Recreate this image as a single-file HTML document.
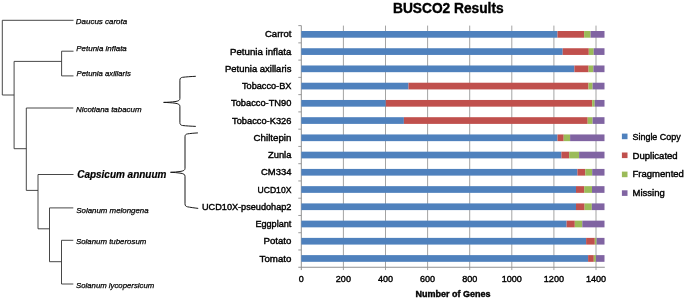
<!DOCTYPE html>
<html lang="en"><head><meta charset="utf-8"><title>BUSCO2 Results</title>
<style>
html,body{margin:0;padding:0;background:#fff;}
body{width:685px;height:300px;overflow:hidden;}
svg{display:block;}
text{font-family:"Liberation Sans",Arial,Helvetica,sans-serif;fill:#000;stroke:#000;stroke-width:0.4;}
.sp{font-style:italic;font-size:8px;fill:#000;stroke:#000;stroke-width:0.25;}
.cap{font-style:italic;font-weight:bold;font-size:10px;fill:#000;stroke:#000;stroke-width:0.2;}
.lab{font-size:9.4px;}
.tick{font-size:9.4px;}
.leg{font-size:9.4px;}
.title{font-size:13.8px;font-weight:bold;fill:#000;}
.xt{font-size:9.4px;font-weight:bold;}
.tree{fill:none;stroke:#333;stroke-width:0.9;}
.brace{fill:none;stroke:#1a1a1a;stroke-width:1;}
</style></head><body>
<svg width="685" height="300" viewBox="0 0 685 300">
<rect x="0" y="0" width="685" height="300" fill="#ffffff"/>
<path class="tree" d="M2.3 20.3 H73.5 M2.3 20.3 V95 H14.1 M14.1 61.4 V148.7 H26.3 M14.1 61.4 H61.6 M61.6 51.2 V75.9 H73.5 M61.6 51.2 H73.5 M26.3 108 V190.4 H38 M26.3 108 H73.3 M38 174.5 V228.8 H49.5 M38 174.5 H73.5 M49.5 207.9 V261.7 H61.5 M49.5 207.9 H73.3 M61.5 240.3 V284 H73.3 M61.5 240.3 H73.3"/>
<text class="sp" x="75.8" y="23.8" textLength="51.4" lengthAdjust="spacingAndGlyphs">Daucus carota</text>
<text class="sp" x="76.3" y="51.2" textLength="50.5" lengthAdjust="spacingAndGlyphs">Petunia inflata</text>
<text class="sp" x="76.5" y="75.9" textLength="54.3" lengthAdjust="spacingAndGlyphs">Petunia axillaris</text>
<text class="sp" x="76" y="111.8" textLength="65.5" lengthAdjust="spacingAndGlyphs">Nicotiana tabacum</text>
<text class="sp" x="76.3" y="212.8" textLength="72.3" lengthAdjust="spacingAndGlyphs">Solanum melongena</text>
<text class="sp" x="76" y="244.1" textLength="70.3" lengthAdjust="spacingAndGlyphs">Solanum tuberosum</text>
<text class="sp" x="76" y="288.4" textLength="78.2" lengthAdjust="spacingAndGlyphs">Solanum lycopersicum</text>
<text class="cap" x="77.2" y="178" textLength="89.2" lengthAdjust="spacingAndGlyphs">Capsicum annuum</text>
<path class="brace" d="M195.8 76.3 C191 76.5 186 76.9 182.6 77.3 C180.8 77.6 179.9 78.3 179.9 80.2 V98.4 C179.9 100.4 178.4 101.1 175 101.6 C172 102 168 102.3 163.6 102.4 C168 102.5 172 102.8 175 103.2 C178.4 103.7 179.9 104.4 179.9 106.4 V122.6 C179.9 124.5 180.8 125.2 182.6 125.5 C186 125.9 191 126.2 195.8 126.4"/>
<path class="brace" d="M197.9 132.9 C194 133.1 190 133.5 187.5 133.9 C185.8 134.2 185 134.9 185 136.8 V168.3 C185 170.3 183.5 171 180 171.5 C177 171.9 174 172.2 170.5 172.3 C174 172.4 177 172.7 180 173.1 C183.5 173.6 185 174.3 185 176.3 V203.8 C185 205.7 185.8 206.4 187.5 206.8 C190 207.3 194 207.9 198.2 208.4"/>
<line x1="343.40" y1="25.6" x2="343.40" y2="270.05" stroke="#949494" stroke-width="0.85"/>
<line x1="385.50" y1="25.6" x2="385.50" y2="270.05" stroke="#949494" stroke-width="0.85"/>
<line x1="427.60" y1="25.6" x2="427.60" y2="270.05" stroke="#949494" stroke-width="0.85"/>
<line x1="469.70" y1="25.6" x2="469.70" y2="270.05" stroke="#949494" stroke-width="0.85"/>
<line x1="511.80" y1="25.6" x2="511.80" y2="270.05" stroke="#949494" stroke-width="0.85"/>
<line x1="553.90" y1="25.6" x2="553.90" y2="270.05" stroke="#949494" stroke-width="0.85"/>
<line x1="596.00" y1="25.6" x2="596.00" y2="270.05" stroke="#949494" stroke-width="0.85"/>
<line x1="301.3" y1="25.6" x2="301.3" y2="270.05" stroke="#909090" stroke-width="1"/>
<line x1="298.3" y1="267.25" x2="604.8" y2="267.25" stroke="#909090" stroke-width="1"/>
<line x1="298.3" y1="25.60" x2="301.3" y2="25.60" stroke="#909090" stroke-width="0.9"/>
<line x1="298.3" y1="42.86" x2="301.3" y2="42.86" stroke="#909090" stroke-width="0.9"/>
<line x1="298.3" y1="60.12" x2="301.3" y2="60.12" stroke="#909090" stroke-width="0.9"/>
<line x1="298.3" y1="77.38" x2="301.3" y2="77.38" stroke="#909090" stroke-width="0.9"/>
<line x1="298.3" y1="94.64" x2="301.3" y2="94.64" stroke="#909090" stroke-width="0.9"/>
<line x1="298.3" y1="111.90" x2="301.3" y2="111.90" stroke="#909090" stroke-width="0.9"/>
<line x1="298.3" y1="129.16" x2="301.3" y2="129.16" stroke="#909090" stroke-width="0.9"/>
<line x1="298.3" y1="146.43" x2="301.3" y2="146.43" stroke="#909090" stroke-width="0.9"/>
<line x1="298.3" y1="163.69" x2="301.3" y2="163.69" stroke="#909090" stroke-width="0.9"/>
<line x1="298.3" y1="180.95" x2="301.3" y2="180.95" stroke="#909090" stroke-width="0.9"/>
<line x1="298.3" y1="198.21" x2="301.3" y2="198.21" stroke="#909090" stroke-width="0.9"/>
<line x1="298.3" y1="215.47" x2="301.3" y2="215.47" stroke="#909090" stroke-width="0.9"/>
<line x1="298.3" y1="232.73" x2="301.3" y2="232.73" stroke="#909090" stroke-width="0.9"/>
<line x1="298.3" y1="249.99" x2="301.3" y2="249.99" stroke="#909090" stroke-width="0.9"/>
<rect x="301.30" y="31.00" width="256.20" height="6.7" fill="#4F81BD"/><rect x="557.50" y="31.00" width="26.60" height="6.7" fill="#C0504D"/><rect x="584.10" y="31.00" width="6.50" height="6.7" fill="#9BBB59"/><rect x="590.60" y="31.00" width="13.90" height="6.7" fill="#8064A2"/>
<text class="lab" x="291.4" y="37.40" text-anchor="end" textLength="26.4" lengthAdjust="spacingAndGlyphs">Carrot</text>
<rect x="301.30" y="48.24" width="261.40" height="6.7" fill="#4F81BD"/><rect x="562.70" y="48.24" width="26.10" height="6.7" fill="#C0504D"/><rect x="588.80" y="48.24" width="4.90" height="6.7" fill="#9BBB59"/><rect x="593.70" y="48.24" width="10.80" height="6.7" fill="#8064A2"/>
<text class="lab" x="291.4" y="54.64" text-anchor="end" textLength="61.4" lengthAdjust="spacingAndGlyphs">Petunia inflata</text>
<rect x="301.30" y="65.48" width="273.10" height="6.7" fill="#4F81BD"/><rect x="574.40" y="65.48" width="14.20" height="6.7" fill="#C0504D"/><rect x="588.60" y="65.48" width="4.80" height="6.7" fill="#9BBB59"/><rect x="593.40" y="65.48" width="11.10" height="6.7" fill="#8064A2"/>
<text class="lab" x="291.4" y="71.88" text-anchor="end" textLength="66.4" lengthAdjust="spacingAndGlyphs">Petunia axillaris</text>
<rect x="301.30" y="82.72" width="107.20" height="6.7" fill="#4F81BD"/><rect x="408.50" y="82.72" width="180.00" height="6.7" fill="#C0504D"/><rect x="588.50" y="82.72" width="4.10" height="6.7" fill="#9BBB59"/><rect x="592.60" y="82.72" width="11.90" height="6.7" fill="#8064A2"/>
<text class="lab" x="291.4" y="89.12" text-anchor="end" textLength="49.4" lengthAdjust="spacingAndGlyphs">Tobacco-BX</text>
<rect x="301.30" y="99.96" width="84.50" height="6.7" fill="#4F81BD"/><rect x="385.80" y="99.96" width="206.40" height="6.7" fill="#C0504D"/><rect x="592.20" y="99.96" width="2.50" height="6.7" fill="#9BBB59"/><rect x="594.70" y="99.96" width="9.80" height="6.7" fill="#8064A2"/>
<text class="lab" x="291.4" y="106.36" text-anchor="end" textLength="60.4" lengthAdjust="spacingAndGlyphs">Tobacco-TN90</text>
<rect x="301.30" y="117.20" width="102.60" height="6.7" fill="#4F81BD"/><rect x="403.90" y="117.20" width="183.80" height="6.7" fill="#C0504D"/><rect x="587.70" y="117.20" width="4.90" height="6.7" fill="#9BBB59"/><rect x="592.60" y="117.20" width="11.90" height="6.7" fill="#8064A2"/>
<text class="lab" x="291.4" y="123.60" text-anchor="end" textLength="59.4" lengthAdjust="spacingAndGlyphs">Tobacco-K326</text>
<rect x="301.30" y="134.44" width="256.20" height="6.7" fill="#4F81BD"/><rect x="557.50" y="134.44" width="6.20" height="6.7" fill="#C0504D"/><rect x="563.70" y="134.44" width="6.40" height="6.7" fill="#9BBB59"/><rect x="570.10" y="134.44" width="34.40" height="6.7" fill="#8064A2"/>
<text class="lab" x="291.4" y="140.84" text-anchor="end" textLength="37.8" lengthAdjust="spacingAndGlyphs">Chiltepin</text>
<rect x="301.30" y="151.68" width="260.10" height="6.7" fill="#4F81BD"/><rect x="561.40" y="151.68" width="7.80" height="6.7" fill="#C0504D"/><rect x="569.20" y="151.68" width="9.90" height="6.7" fill="#9BBB59"/><rect x="579.10" y="151.68" width="25.40" height="6.7" fill="#8064A2"/>
<text class="lab" x="291.4" y="158.08" text-anchor="end" textLength="23.4" lengthAdjust="spacingAndGlyphs">Zunla</text>
<rect x="301.30" y="168.92" width="276.10" height="6.7" fill="#4F81BD"/><rect x="577.40" y="168.92" width="7.90" height="6.7" fill="#C0504D"/><rect x="585.30" y="168.92" width="6.90" height="6.7" fill="#9BBB59"/><rect x="592.20" y="168.92" width="12.30" height="6.7" fill="#8064A2"/>
<text class="lab" x="291.4" y="175.32" text-anchor="end" textLength="30.4" lengthAdjust="spacingAndGlyphs">CM334</text>
<rect x="301.30" y="186.16" width="274.70" height="6.7" fill="#4F81BD"/><rect x="576.00" y="186.16" width="8.20" height="6.7" fill="#C0504D"/><rect x="584.20" y="186.16" width="7.80" height="6.7" fill="#9BBB59"/><rect x="592.00" y="186.16" width="12.50" height="6.7" fill="#8064A2"/>
<text class="lab" x="291.4" y="192.56" text-anchor="end" textLength="33.9" lengthAdjust="spacingAndGlyphs">UCD10X</text>
<rect x="301.30" y="203.40" width="274.70" height="6.7" fill="#4F81BD"/><rect x="576.00" y="203.40" width="8.60" height="6.7" fill="#C0504D"/><rect x="584.60" y="203.40" width="7.20" height="6.7" fill="#9BBB59"/><rect x="591.80" y="203.40" width="12.70" height="6.7" fill="#8064A2"/>
<text class="lab" x="291.4" y="209.80" text-anchor="end" textLength="89.4" lengthAdjust="spacingAndGlyphs">UCD10X-pseudohap2</text>
<rect x="301.30" y="220.64" width="265.30" height="6.7" fill="#4F81BD"/><rect x="566.60" y="220.64" width="8.20" height="6.7" fill="#C0504D"/><rect x="574.80" y="220.64" width="7.50" height="6.7" fill="#9BBB59"/><rect x="582.30" y="220.64" width="22.20" height="6.7" fill="#8064A2"/>
<text class="lab" x="291.4" y="227.04" text-anchor="end" textLength="36.0" lengthAdjust="spacingAndGlyphs">Eggplant</text>
<rect x="301.30" y="237.88" width="284.80" height="6.7" fill="#4F81BD"/><rect x="586.10" y="237.88" width="8.70" height="6.7" fill="#C0504D"/><rect x="594.80" y="237.88" width="1.80" height="6.7" fill="#9BBB59"/><rect x="596.60" y="237.88" width="7.90" height="6.7" fill="#8064A2"/>
<text class="lab" x="291.4" y="244.28" text-anchor="end" textLength="27.9" lengthAdjust="spacingAndGlyphs">Potato</text>
<rect x="301.30" y="255.12" width="286.80" height="6.7" fill="#4F81BD"/><rect x="588.10" y="255.12" width="5.70" height="6.7" fill="#C0504D"/><rect x="593.80" y="255.12" width="2.10" height="6.7" fill="#9BBB59"/><rect x="595.90" y="255.12" width="8.60" height="6.7" fill="#8064A2"/>
<text class="lab" x="291.4" y="261.52" text-anchor="end" textLength="31.8" lengthAdjust="spacingAndGlyphs">Tomato</text>
<text class="tick" x="301.30" y="281.9" text-anchor="middle" textLength="5.0" lengthAdjust="spacingAndGlyphs">0</text>
<text class="tick" x="343.40" y="281.9" text-anchor="middle" textLength="15.1" lengthAdjust="spacingAndGlyphs">200</text>
<text class="tick" x="385.50" y="281.9" text-anchor="middle" textLength="15.1" lengthAdjust="spacingAndGlyphs">400</text>
<text class="tick" x="427.60" y="281.9" text-anchor="middle" textLength="15.1" lengthAdjust="spacingAndGlyphs">600</text>
<text class="tick" x="469.70" y="281.9" text-anchor="middle" textLength="15.1" lengthAdjust="spacingAndGlyphs">800</text>
<text class="tick" x="511.80" y="281.9" text-anchor="middle" textLength="20.2" lengthAdjust="spacingAndGlyphs">1000</text>
<text class="tick" x="553.90" y="281.9" text-anchor="middle" textLength="20.2" lengthAdjust="spacingAndGlyphs">1200</text>
<text class="tick" x="596.00" y="281.9" text-anchor="middle" textLength="20.2" lengthAdjust="spacingAndGlyphs">1400</text>
<text class="xt" x="415.4" y="296.7" textLength="75.2" lengthAdjust="spacingAndGlyphs">Number of Genes</text>
<text class="title" x="393" y="12.9" textLength="110.6" lengthAdjust="spacingAndGlyphs">BUSCO2 Results</text>
<rect x="621.9" y="133.60" width="5.6" height="5.6" fill="#4F81BD"/><text class="leg" x="632.5" y="139.9" textLength="48.2" lengthAdjust="spacingAndGlyphs">Single Copy</text>
<rect x="621.9" y="152.50" width="5.6" height="5.6" fill="#C0504D"/><text class="leg" x="632.5" y="158.7" textLength="45.2" lengthAdjust="spacingAndGlyphs">Duplicated</text>
<rect x="621.9" y="171.60" width="5.6" height="5.6" fill="#9BBB59"/><text class="leg" x="632.5" y="177.4" textLength="51.4" lengthAdjust="spacingAndGlyphs">Fragmented</text>
<rect x="621.9" y="190.30" width="5.6" height="5.6" fill="#8064A2"/><text class="leg" x="632.5" y="196" textLength="32.2" lengthAdjust="spacingAndGlyphs">Missing</text>
</svg>
</body></html>
